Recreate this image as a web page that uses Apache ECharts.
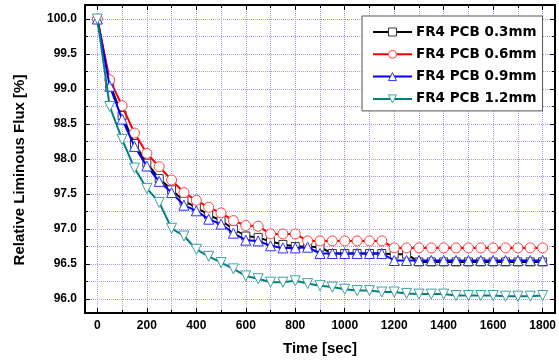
<!DOCTYPE html>
<html>
<head>
<meta charset="utf-8">
<script src="https://cdn.jsdelivr.net/npm/echarts@6/dist/echarts.min.js"></script>
<style>
  html, body { margin: 0; padding: 0; background: #fff; }
  #chart { width: 559px; height: 360px; }
</style>
</head>
<body>
<div id="chart"></div>
<script>
// time in seconds, one marker every 50 s
const times = [0, 50, 100, 150, 200, 250, 300, 350, 400, 450, 500, 550, 600, 650, 700, 750, 800, 850,
  900, 950, 1000, 1050, 1100, 1150, 1200, 1250, 1300, 1350, 1400, 1450, 1500, 1550, 1600, 1650, 1700, 1750, 1800];

const pcb03 = [100, 99.07, 98.62, 98.22, 97.94, 97.72, 97.56, 97.40, 97.31, 97.20, 97.12, 97.00, 96.90, 96.88, 96.82, 96.78, 96.75, 96.75,
  96.74, 96.65, 96.65, 96.65, 96.65, 96.65, 96.64, 96.64, 96.53, 96.53, 96.53, 96.53, 96.53, 96.53, 96.53, 96.53, 96.53, 96.53, 96.53];
const pcb06 = [100, 99.13, 98.76, 98.37, 98.08, 97.89, 97.70, 97.52, 97.41, 97.31, 97.23, 97.12, 97.05, 97.04, 96.93, 96.93, 96.93, 96.83,
  96.83, 96.83, 96.83, 96.83, 96.83, 96.83, 96.73, 96.73, 96.73, 96.73, 96.73, 96.73, 96.73, 96.73, 96.73, 96.73, 96.73, 96.73, 96.73];
const pcb09 = [100, 99.04, 98.57, 98.18, 97.90, 97.68, 97.52, 97.34, 97.26, 97.14, 97.07, 96.94, 96.84, 96.83, 96.76, 96.73, 96.73, 96.74,
  96.65, 96.65, 96.65, 96.65, 96.65, 96.65, 96.55, 96.55, 96.55, 96.55, 96.55, 96.55, 96.55, 96.55, 96.55, 96.55, 96.55, 96.55, 96.55];
const pcb12 = [100, 98.75, 98.28, 97.87, 97.58, 97.38, 97.01, 96.90, 96.71, 96.61, 96.52, 96.43, 96.33, 96.29, 96.24, 96.24, 96.26, 96.22,
  96.19, 96.17, 96.14, 96.12, 96.12, 96.10, 96.10, 96.08, 96.07, 96.07, 96.07, 96.05, 96.05, 96.05, 96.05, 96.04, 96.04, 96.04, 96.05];

const seriesNames = ['FR4 PCB 0.3mm', 'FR4 PCB 0.6mm', 'FR4 PCB 0.9mm', 'FR4 PCB 1.2mm'];
const seriesValues = [pcb03, pcb06, pcb09, pcb12];
const seriesColors = ['#000000', '#ff0000', '#0000ff', '#008080'];
const markerColors = ['#333333', '#ff4040', '#3030ff', '#40a0a0'];
const seriesSymbols = ['rect', 'circle', 'triangle', 'triangle'];
const symbolRotations = [0, 0, 0, 180];
const symbolSizes = [8, 10, 10, 10];

const labelFont = { fontFamily: 'Liberation Sans', fontWeight: 'bold', fontSize: 12, color: '#000' };
const gridLine = { show: true, lineStyle: { color: '#9c9cff', type: 'dotted', width: 1 } };
const frameLine = { show: true, onZero: false, lineStyle: { color: '#000', width: 2 } };

function xAxisDef(position, showLabel) {
  return {
    type: 'value', position, min: -50, max: 1850, splitNumber: 9,
    axisLine: frameLine,
    axisTick: { show: true, inside: true, length: 5, lineStyle: { color: '#000', width: 1 } },
    minorTick: { show: true, splitNumber: 2, length: 3, lineStyle: { color: '#000', width: 1 } },
    splitLine: showLabel ? gridLine : { show: false },
    minorSplitLine: showLabel ? gridLine : { show: false },
    axisLabel: {
      show: showLabel, margin: 7, showMinLabel: false, showMaxLabel: false,
      formatter: (v) => String(v), ...labelFont
    }
  };
}

function yAxisDef(position, showLabel) {
  return {
    type: 'value', position, min: 95.8, max: 100.2, splitNumber: 8,
    axisLine: frameLine,
    axisTick: { show: true, inside: true, length: 5, lineStyle: { color: '#000', width: 1 } },
    minorTick: { show: true, splitNumber: 2, length: 3, lineStyle: { color: '#000', width: 1 } },
    splitLine: showLabel ? gridLine : { show: false },
    minorSplitLine: showLabel ? gridLine : { show: false },
    axisLabel: {
      show: showLabel, margin: 8, showMinLabel: false, showMaxLabel: false,
      formatter: (v) => v.toFixed(1), ...labelFont
    }
  };
}

const chart = echarts.init(document.getElementById('chart'), null, { renderer: 'canvas' });

chart.setOption({
  backgroundColor: '#fff',
  animation: false,
  grid: { left: 85, right: 4, top: 5, bottom: 47 },
  xAxis: [xAxisDef('bottom', true), xAxisDef('top', false)],
  yAxis: [yAxisDef('left', true), yAxisDef('right', false)],
  legend: {
    orient: 'vertical',
    left: 362, top: 16,
    padding: [9, 6, 5, 10],
    itemWidth: 39, itemHeight: 10, itemGap: 8.3,
    backgroundColor: '#fff',
    borderColor: '#555', borderWidth: 1,
    itemStyle: { borderWidth: 1 },
    textStyle: { fontFamily: 'DejaVu Sans', fontWeight: 'bold', fontSize: 13.5, color: '#000', padding: [0, 0, 0, -1] },
    data: seriesNames
  },
  graphic: [
    {
      type: 'text', x: 20, y: 170, rotation: Math.PI / 2,
      style: {
        text: 'Relative Liminous Flux [%]', align: 'center', verticalAlign: 'middle',
        font: 'bold 15px "Liberation Sans"', fill: '#000'
      }
    },
    {
      type: 'text', x: 320, y: 349,
      style: {
        text: 'Time [sec]', align: 'center', verticalAlign: 'middle',
        font: 'bold 15px "Liberation Sans"', fill: '#000'
      }
    }
  ],
  series: seriesNames.map((name, k) => ({
    name,
    type: 'line',
    xAxisIndex: 0, yAxisIndex: 0,
    data: times.map((t, i) => [t, seriesValues[k][i]]),
    symbol: seriesSymbols[k],
    symbolRotate: symbolRotations[k],
    symbolSize: symbolSizes[k],
    showAllSymbol: true,
    lineStyle: { color: seriesColors[k], width: 2 },
    itemStyle: { color: '#fff', borderColor: markerColors[k], borderWidth: 1 },
    z: 2 + k
  }))
});
</script>
</body>
</html>
